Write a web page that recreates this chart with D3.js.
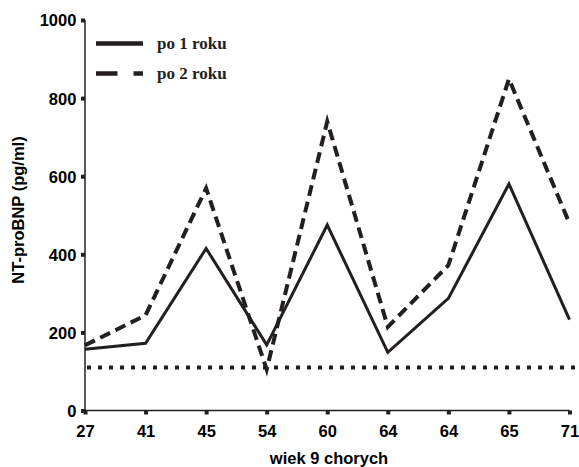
<!DOCTYPE html>
<html><head><meta charset="utf-8">
<script src="https://cdn.jsdelivr.net/npm/d3@7"></script>
<style>body{margin:0;background:#fff}svg{display:block}</style>
</head><body>
<svg id="c" width="579" height="467"></svg>
<script>
const ages = ["27","41","45","54","60","64","64","65","71"];
const year1 = [157, 172, 415, 168, 475, 149, 287, 580, 233];
const year2 = [167, 244, 569, 105, 740, 214, 372, 849, 479];
const reference = 110;
const yTicks = [0, 200, 400, 600, 800, 1000];
const seriesNames = ["po 1 roku", "po 2 roku"];

const svg = d3.select("#c");
const ink = "#231f20";
const x = d3.scalePoint().domain(d3.range(ages.length)).range([85, 569.5]);
const y = d3.scaleLinear().domain([0, 1000]).range([410.5, 20]);

// axes
const xAxis = svg.append("g").attr("transform", "translate(0,410.5)")
  .call(d3.axisBottom(x).tickSize(4).tickSizeOuter(0).tickFormat(i => ages[i]));
xAxis.select(".domain").attr("stroke", ink).attr("stroke-width", 1.5).attr("d", `M${x(0)},0H${x(ages.length-1)}`);
xAxis.selectAll(".tick line").attr("stroke", ink).attr("stroke-width", 4);
xAxis.selectAll(".tick text").attr("dy", "1.18em");

const yAxis = svg.append("g").attr("transform", "translate(85,0)")
  .call(d3.axisLeft(y).tickValues(yTicks).tickSize(4).tickSizeOuter(0).tickFormat(d3.format("d")));
yAxis.select(".domain").attr("stroke", ink).attr("stroke-width", 1.5).attr("d", `M0,${y(0)}V${y(1000)}`);
yAxis.selectAll(".tick line").attr("stroke", ink).attr("stroke-width", 4);
yAxis.selectAll(".tick text").attr("dx", "-0.1em").attr("dy", "0.36em");

svg.selectAll(".tick text").attr("fill", "#000")
  .style("font-family", "'Liberation Sans', Arial, sans-serif")
  .style("font-size", "16.5px").style("font-weight", "bold");

// reference line
svg.append("line").attr("x1", x(0) + 2).attr("x2", 577)
  .attr("y1", y(reference)).attr("y2", y(reference))
  .attr("stroke", ink).attr("stroke-width", 4).attr("stroke-dasharray", "4,7");

const line = d3.line().x((d, i) => x(i)).y(d => y(d));
svg.append("path").datum(year1).attr("d", line).attr("fill", "none")
  .attr("stroke", ink).attr("stroke-width", 3);
svg.append("path").datum(year2).attr("d", line).attr("fill", "none")
  .attr("stroke", ink).attr("stroke-width", 4).attr("stroke-dasharray", "11,6");

// legend
const lg = svg.append("g");
lg.append("line").attr("x1", 96).attr("x2", 143).attr("y1", 43.5).attr("y2", 43.5)
  .attr("stroke", ink).attr("stroke-width", 4.7);
lg.append("line").attr("x1", 96).attr("x2", 143).attr("y1", 73.5).attr("y2", 73.5)
  .attr("stroke", ink).attr("stroke-width", 4.7).attr("stroke-dasharray", "21.5,16");
lg.selectAll("text").data(seriesNames).join("text")
  .attr("x", 157).attr("y", (d, i) => 43.5 + i * 30).attr("dy", "0.33em")
  .attr("fill", ink)
  .style("font-family", "'Liberation Serif', 'Times New Roman', serif")
  .style("font-size", "17px").style("font-weight", "bold")
  .text(d => d);

// axis titles
svg.append("text").attr("x", 329).attr("y", 464).attr("text-anchor", "middle")
  .style("font-family", "'Liberation Sans', Arial, sans-serif")
  .style("font-size", "16.5px").style("font-weight", "bold").text("wiek 9 chorych");
svg.append("text").attr("transform", "translate(24,210) rotate(-90)").attr("text-anchor", "middle")
  .style("font-family", "'Liberation Sans', Arial, sans-serif")
  .style("font-size", "16.5px").style("font-weight", "bold").text("NT-proBNP (pg/ml)");
</script>
</body></html>
